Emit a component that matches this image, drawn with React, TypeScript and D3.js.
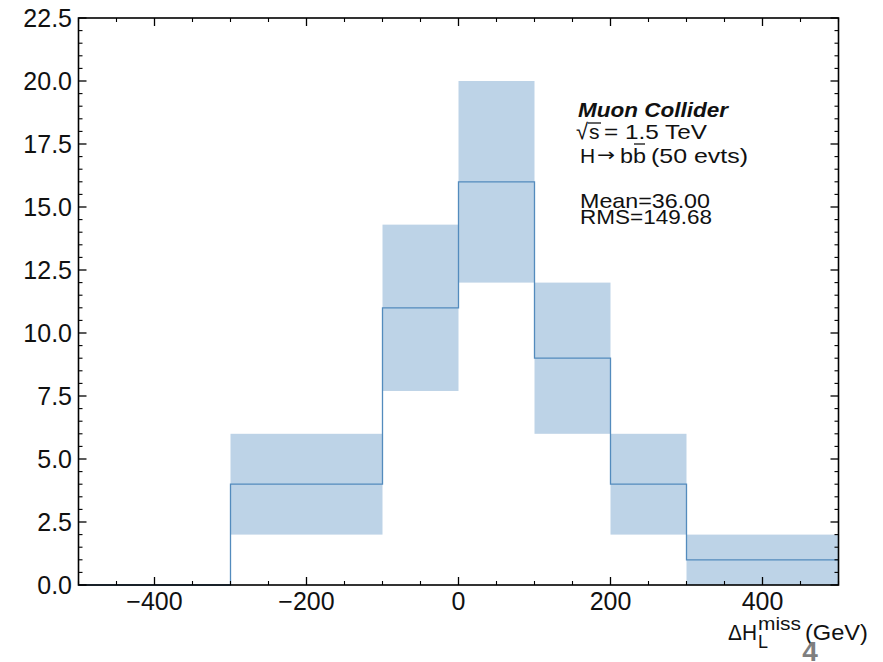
import React from "react";
import * as d3 from "d3";

// histogram of Delta H_L^miss
const binEdges = [-500, -300, -100, 0, 100, 200, 300, 500];
const counts = [0, 4, 11, 16, 9, 4, 1];
const bandLow = [0, 2, 7.7, 12, 6, 2, 0];
const bandHigh = [0, 6, 14.3, 20, 12, 6, 2];

const xMajor = [-400, -200, 0, 200, 400];
const yMajor = [0, 2.5, 5, 7.5, 10, 12.5, 15, 17.5, 20, 22.5];

const W = 883;
const H = 662;
const margin = { top: 18, right: 44.5, bottom: 77, left: 78.5 };
const font = "'Liberation Sans', Arial, Helvetica, sans-serif";

export default function App() {
  const x = d3
    .scaleLinear()
    .domain([-500, 500])
    .range([margin.left, W - margin.right]);
  const y = d3
    .scaleLinear()
    .domain([0, 22.5])
    .range([H - margin.bottom, margin.top]);

  const [x0, x1] = x.range();
  const [y0, y1] = y.range();

  const xMinor = d3.range(-500, 501, 50).filter((v) => !xMajor.includes(v));
  const yMinor = d3.range(0, 22.51, 0.5).filter((v) => Math.abs(v / 2.5 - Math.round(v / 2.5)) > 1e-6);

  const stepPts: [number, number][] = counts.map((c, i) => [binEdges[i], c]);
  stepPts.push([binEdges[binEdges.length - 1], counts[counts.length - 1]]);
  const line = d3
    .line<[number, number]>()
    .x((d) => x(d[0]))
    .y((d) => y(d[1]))
    .curve(d3.curveStepAfter);

  const fmtY = d3.format(".1f");
  const fmtX = d3.format("d");

  const majorLen = 8;
  const minorLen = 4;

  return (
    <svg
      width={W}
      height={H}
      style={{ position: "absolute", left: 0, top: 0, background: "#fff" }}
      fontFamily={font}
    >
      {/* error bands */}
      {counts.map((c, i) =>
        bandHigh[i] > bandLow[i] ? (
          <rect
            key={"b" + i}
            x={x(binEdges[i])}
            width={x(binEdges[i + 1]) - x(binEdges[i])}
            y={y(bandHigh[i])}
            height={y(bandLow[i]) - y(bandHigh[i])}
            fill="#bdd3e7"
          />
        ) : null
      )}
      <path d={line(stepPts) || ""} fill="none" stroke="#538bbd" strokeWidth={1.3} />

      {/* frame */}
      <rect x={x0} y={y1} width={x1 - x0} height={y0 - y1} fill="none" stroke="#000" strokeWidth={1.6} />

      {/* x ticks, bottom and top */}
      {xMajor.map((v) => (
        <g key={"xM" + v}>
          <line x1={x(v)} x2={x(v)} y1={y0} y2={y0 - majorLen} stroke="#000" strokeWidth={1.3} />
          <line x1={x(v)} x2={x(v)} y1={y1} y2={y1 + majorLen} stroke="#000" strokeWidth={1.3} />
          <text x={x(v)} y={610} textAnchor="middle" fontSize={25} fill="#111">
            {fmtX(v)}
          </text>
        </g>
      ))}
      {xMinor.map((v) => (
        <g key={"xm" + v}>
          <line x1={x(v)} x2={x(v)} y1={y0} y2={y0 - minorLen} stroke="#000" strokeWidth={1.1} />
          <line x1={x(v)} x2={x(v)} y1={y1} y2={y1 + minorLen} stroke="#000" strokeWidth={1.1} />
        </g>
      ))}

      {/* y ticks, left and right */}
      {yMajor.map((v) => (
        <g key={"yM" + v}>
          <line x1={x0} x2={x0 + majorLen} y1={y(v)} y2={y(v)} stroke="#000" strokeWidth={1.3} />
          <line x1={x1} x2={x1 - majorLen} y1={y(v)} y2={y(v)} stroke="#000" strokeWidth={1.3} />
          <text x={72} y={y(v)} dy="0.36em" textAnchor="end" fontSize={25} fill="#111">
            {fmtY(v)}
          </text>
        </g>
      ))}
      {yMinor.map((v) => (
        <g key={"ym" + v}>
          <line x1={x0} x2={x0 + minorLen} y1={y(v)} y2={y(v)} stroke="#000" strokeWidth={1.1} />
          <line x1={x1} x2={x1 - minorLen} y1={y(v)} y2={y(v)} stroke="#000" strokeWidth={1.1} />
        </g>
      ))}

      {/* annotation */}
      <g fill="#111" fontSize={21}>
        <text x={578} y={117} fontWeight="bold" fontStyle="italic" textLength={150} lengthAdjust="spacingAndGlyphs">
          Muon Collider
        </text>

        <text x={576} y={139} fontSize={22}>√</text>
        <text x={589} y={139}>s</text>
        <line x1={588} x2={601} y1={123} y2={123} stroke="#111" strokeWidth={1.3} />
        <text x={604} y={139} textLength={103} lengthAdjust="spacingAndGlyphs">
          = 1.5 TeV
        </text>

        <text x={580} y={163}>H</text>
        <text
          x={597}
          y={161}
          fontSize={18}
          fontFamily="'DejaVu Sans', sans-serif"
          textLength={18}
          lengthAdjust="spacingAndGlyphs"
        >
          →
        </text>
        <text x={620} y={163} textLength={26} lengthAdjust="spacingAndGlyphs">bb</text>
        <line x1={634} x2={645} y1={144} y2={144} stroke="#111" strokeWidth={1.3} />
        <text x={651} y={163} textLength={97} lengthAdjust="spacingAndGlyphs">
          (50 evts)
        </text>

        <text x={580} y={208} textLength={130} lengthAdjust="spacingAndGlyphs">
          Mean=36.00
        </text>
        <text x={580} y={224} textLength={132} lengthAdjust="spacingAndGlyphs">
          RMS=149.68
        </text>
      </g>

      {/* x label */}
      <g fill="#111">
        <text x={728} y={640} fontSize={22} textLength={29} lengthAdjust="spacingAndGlyphs">ΔH</text>
        <text x={758} y={630} fontSize={18} textLength={43} lengthAdjust="spacingAndGlyphs">miss</text>
        <text x={758} y={648} fontSize={18}>L</text>
        <text x={805} y={640} fontSize={22} textLength={63} lengthAdjust="spacingAndGlyphs">(GeV)</text>
      </g>

      <text x={810} y={661} textAnchor="middle" fontSize={28} fontWeight="bold" fill="#7f7f7f">
        4
      </text>
    </svg>
  );
}
